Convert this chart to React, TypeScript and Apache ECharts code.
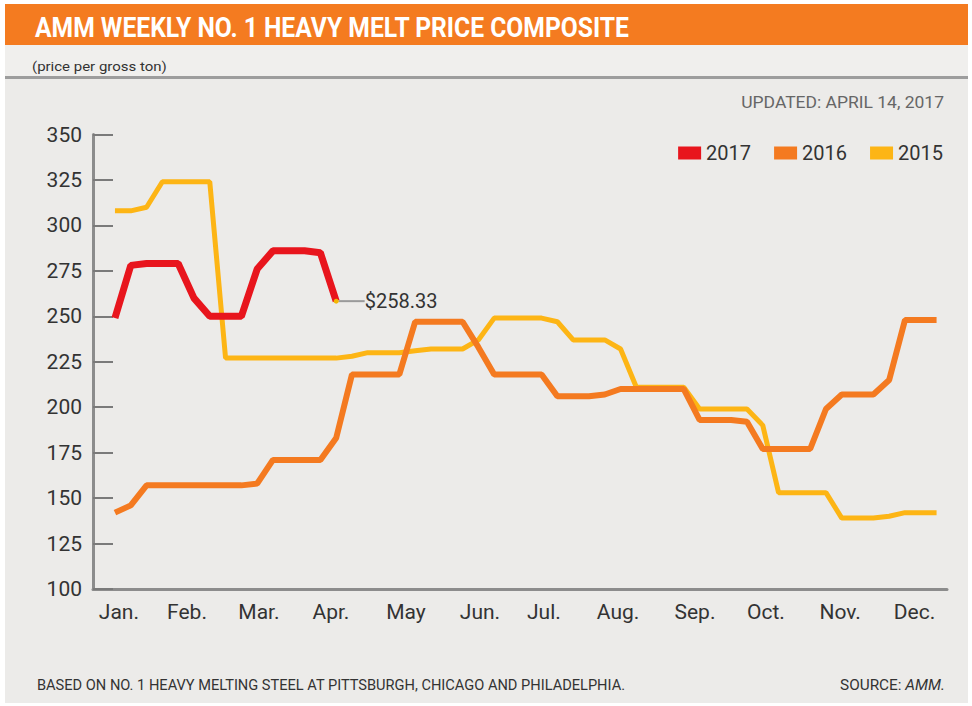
import React, { useEffect, useRef } from "react";
import * as echarts from "echarts";

// ---------- data ----------
const months = ["Jan.", "Feb.", "Mar.", "Apr.", "May", "Jun.", "Jul.", "Aug.", "Sep.", "Oct.", "Nov.", "Dec."];
// week position (0-based week index) under which each month label sits
const monthLabelWeeks = [0.25, 4.56, 9.11, 13.67, 18.42, 23.1, 27.15, 31.84, 36.71, 41.2, 45.9, 50.6];

const yMin = 100;
const yMax = 350;
const yStep = 25;

const seriesNames = ["2017", "2016", "2015"];

const prices2017 = [249, 278, 279, 279, 279, 260, 250, 250, 250, 276, 286, 286, 286, 285, 258.33];

const prices2016 = [
  142, 146, 157, 157, 157, 157, 157, 157, 157, 158,
  171, 171, 171, 171, 183, 218, 218, 218, 218, 247,
  247, 247, 247, 233, 218, 218, 218, 218, 206, 206,
  206, 207, 210, 210, 210, 210, 210, 193, 193, 193,
  192, 177, 177, 177, 177, 199, 207, 207, 207, 215,
  248, 248, 248,
];

const prices2015 = [
  308, 308, 310, 324, 324, 324, 324, 227, 227, 227,
  227, 227, 227, 227, 227, 228, 230, 230, 230, 231,
  232, 232, 232, 237, 249, 249, 249, 249, 247, 237,
  237, 237, 232, 211, 211, 211, 211, 199, 199, 199,
  199, 190, 153, 153, 153, 153, 139, 139, 139, 140,
  142, 142, 142,
];

const lastLabel = "$258.33";

const titleText = "AMM WEEKLY NO. 1 HEAVY MELT PRICE COMPOSITE";
const subtitleText = "(price per gross ton)";
const updatedText = "UPDATED: APRIL 14, 2017";
const footnoteText = "BASED ON NO. 1 HEAVY MELTING STEEL AT PITTSBURGH, CHICAGO AND PHILADELPHIA.";
const sourceLead = "SOURCE: ";
const sourceName = "AMM.";

// ---------- styles ----------
const FONT = "Roboto, 'Noto Sans', sans-serif";
const C_RED = "#e8151d";
const C_ORANGE = "#f47a20";
const C_YELLOW = "#fdb515";
const C_TEXT = "#333333";

function measure(text: string, font: string): number {
  const ctx = document.createElement("canvas").getContext("2d");
  if (!ctx) return text.length * 10;
  ctx.font = font;
  return ctx.measureText(text).width;
}

export default function App() {
  const ref = useRef<HTMLDivElement>(null);

  useEffect(() => {
    if (!ref.current) return;
    const chart = echarts.init(ref.current, null, { renderer: "svg" });

    const titleFont = "bold 28px Roboto";
    const titleScale = 595 / measure(titleText, titleFont);
    const updFont = "17px Roboto";
    const updScale = 203 / measure(updatedText, updFont);
    const footFont = "14px Roboto";
    const footScale = 589 / measure(footnoteText, footFont);
    const srcScale =
      105 / (measure(sourceLead, footFont) + measure(sourceName, "italic 14px Roboto"));
    const subFont = "13px Roboto";
    const subScale = 135 / measure(subtitleText, subFont);

    const pairs = (arr: number[]) => arr.map((v, i) => [i, v]);
    const data2017: any[] = pairs(prices2017);
    const li = data2017.length - 1;
    data2017[li] = {
      value: data2017[li],
      symbol: "circle",
      symbolSize: 5,
      itemStyle: { color: "#f2b705", borderWidth: 0 },
      label: {
        show: true,
        position: "right",
        distance: 4,
        formatter: lastLabel,
        fontSize: 20,
        fontFamily: FONT,
        color: C_TEXT,
      },
      labelLine: { show: true, lineStyle: { color: "#9a9a9a", width: 2 } },
    };

    const option: any = {
      animation: false,
      backgroundColor: "#ffffff",
      textStyle: { fontFamily: FONT },
      grid: { left: 93, right: 25, top: 134.5, bottom: 117, containLabel: false },
      legend: {
        data: seriesNames,
        right: 29,
        top: 143,
        padding: 0,
        icon: "rect",
        itemWidth: 23,
        itemHeight: 13,
        itemGap: 23,
        textStyle: { fontSize: 20, color: C_TEXT, fontFamily: FONT },
      },
      xAxis: {
        type: "value",
        min: -1.39,
        max: 52.66,
        axisLine: { show: true, onZero: false, lineStyle: { color: "#8c8c8c", width: 3 } },
        axisTick: { show: false },
        splitLine: { show: false },
        axisLabel: {
          customValues: monthLabelWeeks,
          formatter: (v: number) => {
            let best = 0;
            monthLabelWeeks.forEach((w, i) => {
              if (Math.abs(w - v) < Math.abs(monthLabelWeeks[best] - v)) best = i;
            });
            return months[best];
          },
          fontSize: 21,
          color: C_TEXT,
          margin: 12,
          fontFamily: FONT,
        },
      },
      yAxis: {
        type: "value",
        min: yMin,
        max: yMax,
        interval: yStep,
        axisLine: { show: true, onZero: false, lineStyle: { color: "#8c8c8c", width: 3 } },
        axisTick: { show: true, inside: true, length: 20, lineStyle: { color: "#7a7a7a", width: 2 } },
        splitLine: { show: false },
        axisLabel: { fontSize: 21, color: C_TEXT, margin: 11, fontFamily: FONT },
      },
      series: [
        {
          name: seriesNames[0],
          type: "line",
          data: data2017,
          symbol: "none",
          z: 5,
          color: C_RED,
          lineStyle: { color: C_RED, width: 7 },
          labelLayout: { dx: 22 },
        },
        {
          name: seriesNames[1],
          type: "line",
          data: pairs(prices2016),
          symbol: "none",
          z: 4,
          color: C_ORANGE,
          lineStyle: { color: C_ORANGE, width: 6 },
        },
        {
          name: seriesNames[2],
          type: "line",
          data: pairs(prices2015),
          symbol: "none",
          z: 3,
          color: C_YELLOW,
          lineStyle: { color: C_YELLOW, width: 5 },
        },
      ],
      graphic: [
        { type: "rect", silent: true, z: -10, shape: { x: 5, y: 4, width: 963, height: 699 }, style: { fill: "#ecebe9" } },
        { type: "rect", silent: true, z: -9, shape: { x: 5, y: 4, width: 963, height: 41 }, style: { fill: "#f47b20" } },
        { type: "rect", silent: true, z: -9, shape: { x: 5, y: 45, width: 963, height: 31 }, style: { fill: "#f0efed" } },
        { type: "rect", silent: true, z: -9, shape: { x: 5, y: 76, width: 963, height: 3 }, style: { fill: "#9d9d9d" } },
        {
          type: "text", silent: true, z: 10, x: 35, y: 27, scaleX: titleScale,
          style: { text: titleText, fill: "#ffffff", font: titleFont, textAlign: "left", textVerticalAlign: "middle" },
        },
        {
          type: "text", silent: true, z: 10, x: 32, y: 66, scaleX: subScale,
          style: { text: subtitleText, fill: C_TEXT, font: subFont, textAlign: "left", textVerticalAlign: "middle" },
        },
        {
          type: "text", silent: true, z: 10, x: 944, y: 102, scaleX: updScale,
          style: { text: updatedText, fill: "#666666", font: updFont, textAlign: "right", textVerticalAlign: "middle" },
        },
        {
          type: "text", silent: true, z: 10, x: 37, y: 685, scaleX: footScale,
          style: { text: footnoteText, fill: C_TEXT, font: footFont, textAlign: "left", textVerticalAlign: "middle" },
        },
        {
          type: "text", silent: true, z: 10, x: 945, y: 685, scaleX: srcScale,
          style: {
            text: "{a|" + sourceLead + "}{b|" + sourceName + "}",
            fill: C_TEXT, font: footFont, textAlign: "right", textVerticalAlign: "middle",
            rich: {
              a: { fontSize: 14, fontFamily: "Roboto", fill: C_TEXT },
              b: { fontSize: 14, fontFamily: "Roboto", fontStyle: "italic", fill: C_TEXT },
            },
          },
        },
      ],
    };

    chart.setOption(option);
    return () => chart.dispose();
  }, []);

  return (
    <div
      ref={ref}
      style={{ position: "absolute", left: 0, top: 0, width: 972, height: 706 }}
    />
  );
}
